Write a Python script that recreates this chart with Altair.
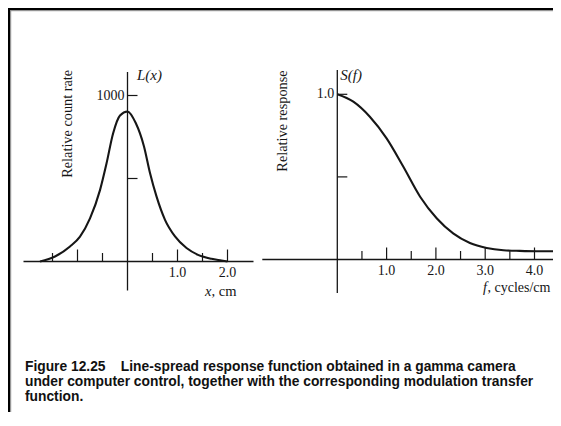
import altair as alt
import pandas as pd

# ---------------- data ----------------
# Line-spread function L(x): x in cm, relative count rate
lsf_x = [-1.75, -1.45, -1.15, -0.95, -0.75, -0.55, -0.42, -0.29, -0.15, 0.0,
         0.165, 0.33, 0.45, 0.58, 0.75, 0.95, 1.18, 1.41, 1.68, 1.88, 2.0]
lsf_y = [0, 30, 90, 150, 260, 430, 590, 770, 880, 904,
         834, 693, 533, 392, 251, 151, 81, 40, 16, 6, 0]

# Modulation transfer function S(f): f in cycles/cm, relative response
mtf_f = [0.0, 0.325, 0.66, 1.0, 1.34, 1.68, 2.02, 2.35, 2.69, 3.03, 3.37, 3.7, 4.05, 4.5]
mtf_s = [1.0, 0.955, 0.864, 0.733, 0.561, 0.38, 0.248, 0.158, 0.10, 0.07, 0.056, 0.052, 0.05, 0.05]

# Axis ticks and labels
left_xticks = [-1.5, -1.0, -0.5, 0.5, 1.0, 1.5, 2.0]
left_xlabel_pos = [1.0, 2.0]
left_xlabels = ["1.0", "2.0"]
left_yticks = [500, 1000]
left_ylabel_pos = [1000]
left_ylabels = ["1000"]

right_xticks = [0.5, 1.0, 1.5, 2.0, 2.5, 3.0, 3.5, 4.0]
right_xlabel_pos = [1.0, 2.0, 3.0, 4.0]
right_xlabels = ["1.0", "2.0", "3.0", "4.0"]
right_yticks = [0.5, 1.0]
right_ylabel_pos = [1.0]
right_ylabels = ["1.0"]

caption_lines = [
    "Figure 12.25\u00a0\u00a0\u00a0\u00a0Line-spread response function obtained in a gamma camera",
    "under computer control, together with the corresponding modulation transfer",
    "function.",
]

# ---------------- layout (chart pixel frame) ----------------
W, H = 545, 404
INK = "#161616"
SERIF = "Liberation Serif"

# left panel: origin pixel, px per cm, px per count
L_X0, L_Y0, L_SX, L_SY = 119.5, 253.5, 50.0, 0.166
# right panel: origin pixel, px per cycle/cm, px per unit response
R_X0, R_Y0, R_SX, R_SY = 329.3, 251.5, 49.3, 165.2


def xscale(x0, sx):
    return alt.Scale(domain=[-x0 / sx, (W - x0) / sx], nice=False, zero=False)


def yscale(y0, sy):
    return alt.Scale(domain=[(y0 - H) / sy, y0 / sy], nice=False, zero=False)


def X(f, sc):
    return alt.X(f, type="quantitative", scale=sc, axis=None)


def Y(f, sc):
    return alt.Y(f, type="quantitative", scale=sc, axis=None)


def panel(cx, cy, x0, y0, sx, sy, base_from, base_to, ax_bottom, ax_top,
          xticks, xlab_pos, xlabs, yticks, ylab_pos, ylabs):
    xs, ys = xscale(x0, sx), yscale(y0, sy)
    layers = []
    # baseline
    layers.append(alt.Chart(pd.DataFrame({"x": [base_from / sx], "x2": [base_to / sx], "y": [0]}))
                  .mark_rule(color=INK, strokeWidth=1.3)
                  .encode(x=X("x", xs), x2="x2", y=Y("y", ys)))
    # vertical axis
    layers.append(alt.Chart(pd.DataFrame({"x": [0], "y": [ax_bottom / sy], "y2": [ax_top / sy]}))
                  .mark_rule(color=INK, strokeWidth=1.3)
                  .encode(x=X("x", xs), y=Y("y", ys), y2="y2"))
    # x ticks (major at integers)
    tdf = pd.DataFrame({"x": xticks})
    tdf["y"] = 0
    tdf["y2"] = [(12.0 if float(v).is_integer() else 8.5) / sy for v in xticks]
    layers.append(alt.Chart(tdf).mark_rule(color=INK, strokeWidth=1.2)
                  .encode(x=X("x", xs), y=Y("y", ys), y2="y2"))
    # y ticks
    ydf = pd.DataFrame({"y": yticks})
    ydf["x"] = 0
    ydf["x2"] = 10.0 / sx
    layers.append(alt.Chart(ydf).mark_rule(color=INK, strokeWidth=1.2)
                  .encode(x=X("x", xs), x2="x2", y=Y("y", ys)))
    # x labels
    layers.append(alt.Chart(pd.DataFrame({"x": xlab_pos, "t": xlabs, "y": [0] * len(xlabs)}))
                  .mark_text(font=SERIF, fontSize=14, color=INK, align="center", baseline="middle", dy=11)
                  .encode(x=X("x", xs), y=Y("y", ys), text="t:N"))
    # y labels
    layers.append(alt.Chart(pd.DataFrame({"y": ylab_pos, "t": ylabs, "x": [0] * len(ylabs)}))
                  .mark_text(font=SERIF, fontSize=14, color=INK, align="right", baseline="middle", dx=-3)
                  .encode(x=X("x", xs), y=Y("y", ys), text="t:N"))
    # curve
    layers.append(alt.Chart(pd.DataFrame({"x": cx, "y": cy}))
                  .mark_line(color=INK, strokeWidth=2.1, interpolate="monotone")
                  .encode(x=X("x", xs), y=Y("y", ys)))
    return layers, xs, ys


lay_l, lxs, lys = panel(lsf_x, lsf_y, L_X0, L_Y0, L_SX, L_SY, -104, 126, -29, 189.5,
                        left_xticks, left_xlabel_pos, left_xlabels,
                        left_yticks, left_ylabel_pos, left_ylabels)
lay_r, rxs, rys = panel(mtf_f, mtf_s, R_X0, R_Y0, R_SX, R_SY, -75, 240, -33.5, 189.5,
                        right_xticks, right_xlabel_pos, right_xlabels,
                        right_yticks, right_ylabel_pos, right_ylabels)


def text_at(xv, yv, xs, ys, txt, **kw):
    return (alt.Chart(pd.DataFrame({"x": [xv], "y": [yv], "t": [txt]}))
            .mark_text(font=SERIF, color=INK, **kw)
            .encode(x=X("x", xs), y=Y("y", ys), text="t:N"))


top_l = 189.5 / L_SY
top_r = 189.5 / R_SY
# note: for rotated (270 deg) text, dx runs upward on screen and dy runs rightward
titles = [
    text_at(0, top_l, lxs, lys, "L(x)", fontSize=15, fontStyle="italic", align="left", baseline="middle", dx=9.5, dy=3),
    text_at(0, 1000, lxs, lys, "Relative count rate", fontSize=14.3, angle=270, align="center",
            baseline="middle", dx=-28.3, dy=-59.2),
    text_at(2.0, 0, lxs, lys, "x", fontSize=14.5, fontStyle="italic", align="right", baseline="middle", dx=-16, dy=30),
    text_at(2.0, 0, lxs, lys, ", cm", fontSize=14.5, align="left", baseline="middle", dx=-16, dy=30),
    text_at(0, top_r, rxs, rys, "S(f)", fontSize=15, fontStyle="italic", align="left", baseline="middle", dx=3, dy=5),
    text_at(0, 1.0, rxs, rys, "Relative response", fontSize=14.3, angle=270, align="center",
            baseline="middle", dx=-26.7, dy=-54),
    text_at(4.0, 0, rxs, rys, "f", fontSize=14.2, fontStyle="italic", align="right", baseline="middle", dx=-47.5, dy=28.5),
    text_at(4.0, 0, rxs, rys, ", cycles/cm", fontSize=14, align="left", baseline="middle", dx=-47, dy=28.5),
]

border = [
    alt.Chart(pd.DataFrame({"a": [0]})).mark_rule(color="#000", strokeWidth=2.2)
    .encode(x=alt.value(0), x2=alt.value(W), y=alt.value(1.1)),
    alt.Chart(pd.DataFrame({"a": [0]})).mark_rule(color="#000", strokeWidth=2.2)
    .encode(x=alt.value(1.1), y=alt.value(0), y2=alt.value(H)),
    alt.Chart(pd.DataFrame({"a": [0]})).mark_rule(color="#8a8a8a", strokeWidth=1)
    .encode(x=alt.value(2.2), x2=alt.value(W), y=alt.value(2.7)),
    alt.Chart(pd.DataFrame({"a": [0]})).mark_rule(color="#8a8a8a", strokeWidth=1)
    .encode(x=alt.value(2.7), y=alt.value(2.2), y2=alt.value(H)),
]

caption = (alt.Chart(pd.DataFrame({"a": [0]}))
           .mark_text(font="Liberation Sans", fontWeight="bold", fontSize=13.8, color="#111",
                      align="left", baseline="top", lineHeight=15)
           .encode(x=alt.value(17), y=alt.value(351.5), text=alt.value(caption_lines)))

chart = (alt.layer(*border, *lay_l, *lay_r, *titles, caption)
         .resolve_scale(x="independent", y="independent")
         .properties(width=W, height=H, padding=0, autosize=alt.AutoSizeParams(type="none"))
         .configure_view(stroke=None))

chart.save("out.html", embed_options={"renderer": "svg", "actions": False})
